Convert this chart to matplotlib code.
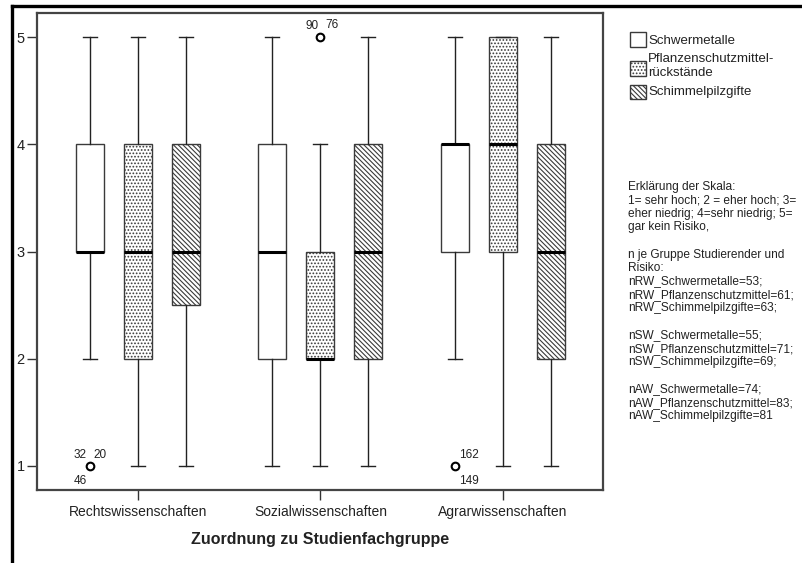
import numpy as np
import matplotlib
matplotlib.use('Agg')
from matplotlib import pyplot as plt
from matplotlib.patches import Rectangle
from matplotlib.lines import Line2D

plt.rcParams['font.family'] = ['Liberation Sans', 'DejaVu Sans']
plt.rcParams['hatch.linewidth'] = 0.8

groups = ['Rechtswissenschaften', 'Sozialwissenschaften', 'Agrarwissenschaften']
risks = ['Schwermetalle', 'Pflanzenschutzmittel-\nrückstände', 'Schimmelpilzgifte']

# per group: whislo, q1, median, q3, whishi
schwermetalle = [[2, 3, 3, 4, 5], [1, 2, 3, 4, 5], [2, 3, 4, 4, 5]]
pflanzenschutz = [[1, 2, 3, 4, 5], [1, 2, 2, 3, 4], [1, 3, 4, 5, 5]]
schimmelpilz = [[1, 2.5, 3, 4, 5], [1, 2, 3, 4, 5], [1, 2, 3, 4, 5]]

# outliers: group index, risk index, value, case numbers
out_group = [0, 1, 2]
out_risk = [0, 1, 0]
out_value = [1, 5, 1]
out_cases = [['32', '20', '46'], ['90', '76'], ['162', '149']]
# label offsets in points for the case numbers
out_offsets = [[(-7, 8), (7, 8), (-7, -11)], [(-6, 8), (8, 9)], [(10, 8), (10, -11)]]

legend_text = [
    'Erklärung der Skala:',
    '1= sehr hoch; 2 = eher hoch; 3=',
    'eher niedrig; 4=sehr niedrig; 5=',
    'gar kein Risiko,',
    '',
    'n je Gruppe Studierender und',
    'Risiko:',
    'nRW_Schwermetalle=53;',
    'nRW_Pflanzenschutzmittel=61;',
    'nRW_Schimmelpilzgifte=63;',
    '',
    'nSW_Schwermetalle=55;',
    'nSW_Pflanzenschutzmittel=71;',
    'nSW_Schimmelpilzgifte=69;',
    '',
    'nAW_Schwermetalle=74;',
    'nAW_Pflanzenschutzmittel=83;',
    'nAW_Schimmelpilzgifte=81',
]

W, H = 802, 563
hatches = ['', '.....', '\\' * 7]
series = [schwermetalle, pflanzenschutz, schimmelpilz]
offset = 0.263
width = 0.153
edge = '#3a3a3a'

fig = plt.figure(figsize=(W / 100, H / 100), dpi=100)
ax = fig.add_axes([37 / W, 1 - 490 / H, (603 - 37) / W, (490 - 13) / H])

for r, data in enumerate(series):
    stats = []
    for g, (lo, q1, med, q3, hi) in enumerate(data):
        fl = [v for gg, rr, v in zip(out_group, out_risk, out_value) if gg == g and rr == r]
        stats.append(dict(whislo=lo, q1=q1, med=med, q3=q3, whishi=hi, fliers=fl))
    pos = np.arange(len(groups)) + (r - 1) * offset
    bp = ax.bxp(stats, positions=pos, widths=width, patch_artist=True,
                showfliers=True,
                boxprops=dict(facecolor='white', edgecolor=edge, linewidth=1.0, hatch=hatches[r]),
                medianprops=dict(color='black', linewidth=2.2, solid_capstyle='butt'),
                whiskerprops=dict(color='#222222', linewidth=1.0),
                capprops=dict(color='#222222', linewidth=1.0),
                capwidths=width * 0.5,
                flierprops=dict(marker='o', markersize=5.5, markerfacecolor='white',
                                markeredgecolor='black', markeredgewidth=1.5))

for g, r, v, cases, offs in zip(out_group, out_risk, out_value, out_cases, out_offsets):
    x = g + (r - 1) * offset
    for c, (dx, dy) in zip(cases, offs):
        ax.annotate(c, (x, v), xytext=(dx, dy), textcoords='offset points',
                    ha='center', va='center', fontsize=8.5, color='#222222')

ax.set_xlim(-0.553, 2.548)
ax.set_ylim(0.776, 5.224)
ax.set_xticks(range(len(groups)))
ax.set_xticklabels(groups, fontsize=10, color='#222222')
ax.set_yticks([1, 2, 3, 4, 5])
ax.set_yticklabels(['1', '2', '3', '4', '5'], fontsize=10.5, color='#222222')
ax.tick_params(axis='both', direction='out', length=7, width=1.0, color='#333333')
ax.tick_params(axis='x', pad=4)
ax.tick_params(axis='y', pad=2)
for s in ax.spines.values():
    s.set_color('#444444')
    s.set_linewidth(1.6)
ax.set_xlabel('Zuordnung zu Studienfachgruppe', fontsize=11.5, fontweight='bold',
              color='#222222', labelpad=9)

# outer frame, top and left edges
fig.add_artist(Line2D([12 / W, 1], [1 - 6 / H, 1 - 6 / H], transform=fig.transFigure,
                      color='black', linewidth=2.4))
fig.add_artist(Line2D([12 / W, 12 / W], [0, 1 - 6 / H], transform=fig.transFigure,
                      color='black', linewidth=2.4))

# legend for the three risks
box_y = [(32, 47), (61, 76), (85, 99)]
text_y = [41, 66, 92]
for r in range(3):
    y0, y1 = box_y[r]
    fig.add_artist(Rectangle((630 / W, 1 - y1 / H), 16 / W, (y1 - y0) / H,
                             transform=fig.transFigure, facecolor='white',
                             edgecolor=edge, linewidth=1.0, hatch=hatches[r]))
    fig.text(648 / W, 1 - text_y[r] / H, risks[r], fontsize=9.5, va='center', ha='left',
             color='#222222', linespacing=1.12)

# scale explanation and group sizes
for i, line in enumerate(legend_text):
    fig.text(628 / W, 1 - (187 + i * 13.5) / H, line, fontsize=8.6, va='center',
             ha='left', color='#222222')

fig.savefig('out.png', dpi=100)
